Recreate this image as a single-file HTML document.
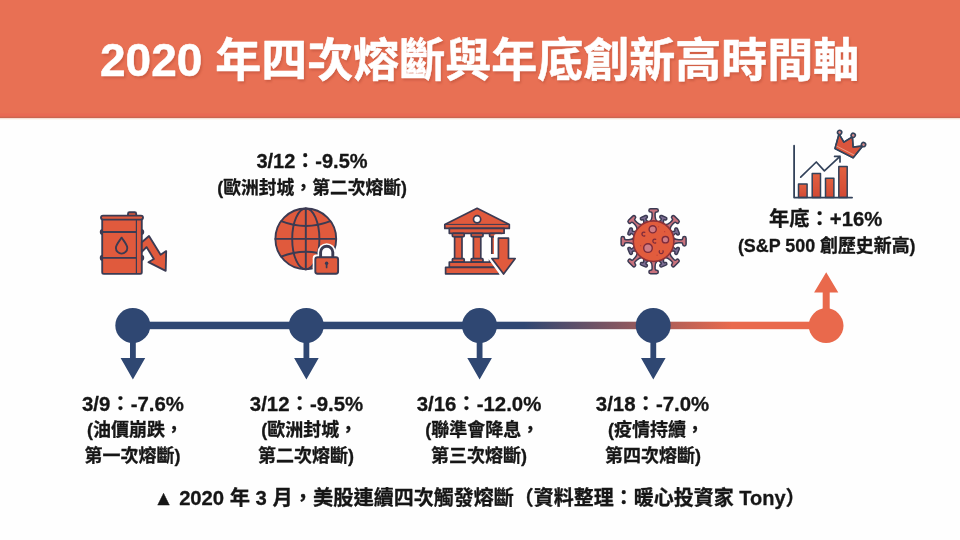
<!DOCTYPE html>
<html lang="zh-Hant">
<head>
<meta charset="utf-8">
<title>2020 年四次熔斷與年底創新高時間軸</title>
<style>
html,body{margin:0;padding:0;background:#fefefe;}
body{width:960px;height:540px;overflow:hidden;position:relative;font-family:"Liberation Sans","Noto Sans CJK TC",sans-serif;font-weight:bold;}
#art{position:absolute;left:0;top:0;width:960px;height:540px;display:block;}
#art text{font-family:"Liberation Sans","Noto Sans CJK TC",sans-serif;font-weight:bold;}
</style>
</head>
<body>
<svg id="art" width="960" height="540" viewBox="0 0 960 540">
<defs>
<linearGradient id="lineGrad" gradientUnits="userSpaceOnUse" x1="524" y1="0" x2="732" y2="0">
<stop offset="0" stop-color="#2f4772"/>
<stop offset="1" stop-color="#e9694c"/>
</linearGradient>
<linearGradient id="barGrad" x1="0" y1="0" x2="0" y2="1">
<stop offset="0" stop-color="#e2603f"/>
<stop offset="1" stop-color="#d24a35"/>
</linearGradient>
<filter id="soft" x="-5%" y="-5%" width="110%" height="110%"><feGaussianBlur stdDeviation="0.45"/></filter>
<filter id="tshadow" x="-2%" y="-10%" width="104%" height="130%"><feGaussianBlur stdDeviation="0.8"/></filter>
</defs>

<!-- background + banner -->
<rect x="0" y="0" width="960" height="540" fill="#fefefe"/>
<rect x="0" y="0" width="960" height="118" fill="#e87054"/>
<rect x="0" y="113.500" width="960" height="3" fill="#ea6752" opacity="0.7"/>
<rect x="0" y="116.700" width="960" height="1.700" fill="#c4634d" opacity="0.8"/>
<rect x="0" y="118.400" width="960" height="1.200" fill="#fbeee4" opacity="0.9"/>

<!-- timeline -->
<g id="timeline">
<rect x="132" y="321.7" width="695" height="7.5" fill="url(#lineGrad)"/>
<g fill="#2f4772">
<g id="node"><circle cx="132.8" cy="325.5" r="17.5"/><path d="M130 340h5.8v18h9.4l-12.3 21.4l-12.3-21.4h9.4z"/></g>
<use href="#node" x="173.5"/>
<use href="#node" x="346.7"/>
<use href="#node" x="520.4"/>
</g>
<g fill="#e9694c">
<circle cx="826.1" cy="325.7" r="17.4"/>
<path d="M822.7 312v-19.400h-8.600l12.100-20.400l12.100 20.400h-8.600v19.400z"/>
</g>
</g>

<!-- icons -->
<g id="icons" filter="url(#soft)">

<!-- oil barrel with falling arrow -->
<g id="ic-oil" stroke="#3b3a52" stroke-width="1.85" stroke-linejoin="round" stroke-linecap="round" fill="#e05a3c">
<rect x="128" y="212.2" width="8.2" height="4.5" rx="1.5"/>
<rect x="100.700" y="229.900" width="42.600" height="4.200" rx="2"/>
<rect x="100.700" y="255.700" width="42.600" height="4.200" rx="2"/>
<rect x="102.2" y="215.8" width="39.6" height="58" rx="1.6"/>
<rect x="101" y="215.6" width="42" height="4" rx="2"/>
<path d="M102.5 232h33.5M102.5 257.8h33.5" fill="none"/>
<path d="M136.4 219.5v54" fill="none" stroke-width="1.2"/>
<path d="M121.600 237.600c2.600 3.900 5.700 7.100 5.700 10.300a5.700 5.700 0 0 1-11.400 0c0-3.200 3.100-6.400 5.700-10.300z"/>
<path d="M141.8 242.2L149 236L160.600 254.800L166.200 251.100L165.700 270.800L148.400 262.200L153.900 259L146.500 247.100L141.8 251.900z"/>
</g>

<!-- globe with padlock -->
<g id="ic-globe" stroke="#3b3a52" stroke-width="1.9" stroke-linejoin="round" stroke-linecap="round" fill="#e05a3c">
<circle cx="305.8" cy="238.9" r="30.4"/>
<g fill="none">
<ellipse cx="305.8" cy="238.9" rx="13.6" ry="30.4"/>
<path d="M305.8 208.500v60.800M275.400 238.900h60.800"/>
<path d="M281.200 221.200q24.600 9.600 49.200 0M281.200 256.600q24.600-9.600 49.200 0"/>
</g>
<path d="M317.600 258v-5.700a9.100 9.100 0 0 1 18.200 0v5.700z" fill="#fefefe" stroke="none"/>
<rect x="312.700" y="254.600" width="28" height="21.800" rx="3.600" fill="#fefefe" stroke="none"/>
<path d="M320.600 257.500v-5.200a6.100 6.100 0 0 1 12.200 0v5.200" fill="none" stroke-width="2.900"/>
<rect x="315.300" y="257.200" width="22.800" height="16.600" rx="2.200"/>
<circle cx="326.600" cy="263.200" r="1.700" fill="#3b3a52" stroke="none"/>
<path d="M326.600 263.500v4" fill="none" stroke-width="1.700"/>
</g>

<!-- bank with down arrow -->
<g id="ic-bank" stroke="#3b3a52" stroke-width="1.7" stroke-linejoin="round" stroke-linecap="round" fill="#e05a3c">
<path d="M477.100 208.300L509.300 224.400v4h-64.500v-4z"/>
<path d="M445.500 224.400h63" fill="none" stroke-width="1"/>
<circle cx="477.100" cy="219.300" r="3.600" fill="#fefefe"/>
<rect x="449.300" y="228.400" width="54.800" height="4.900"/>
<g id="col">
<rect x="454.600" y="236.600" width="7.400" height="23"/>
<rect x="452.400" y="233.300" width="11.800" height="3.300" rx="0.800"/>
<rect x="452.400" y="258.600" width="11.800" height="3.600" rx="0.800"/>
</g>
<use href="#col" x="18.800"/>
<use href="#col" x="37.200"/>
<rect x="449.300" y="262.200" width="46" height="5.200"/>
<rect x="445.600" y="267.400" width="53.500" height="6.400"/>
<path d="M495.900 236.200h15.200v19.800h7.200l-14.700 20.600l-14.700-20.600h7z" fill="#fefefe" stroke="#fefefe" stroke-width="4"/>
<path d="M498.400 238.200h10.100v20.300h6.700l-11.600 15.600l-11.700-15.600h6.500z"/>
</g>

<!-- virus -->
<g id="ic-virus" transform="translate(653.6 241.2)" stroke="#3b3a52" stroke-width="1.5" stroke-linejoin="round" stroke-linecap="round">
<path id="spk" fill="#c9727d" d="M-3.6 -19.500C-2.300 -21 -1.500 -23 -1.500 -25L-1.500 -27.600C-1.500 -28.700 -2.200 -29.100 -3 -29.100A1.700 1.700 0 0 1 -3 -32.500L3 -32.500A1.700 1.700 0 0 1 3 -29.100C2.200 -29.100 1.500 -28.700 1.500 -27.600L1.500 -25C1.500 -23 2.300 -21 3.600 -19.500Z"/>
<use href="#spk" transform="rotate(45)"/>
<use href="#spk" transform="rotate(90)"/>
<use href="#spk" transform="rotate(135)"/>
<use href="#spk" transform="rotate(180)"/>
<use href="#spk" transform="rotate(225)"/>
<use href="#spk" transform="rotate(270)"/>
<use href="#spk" transform="rotate(315)"/>
<path id="nub" fill="#7b6c93" transform="rotate(22.5)" d="M-2.800 -19.500C-1.900 -21 -1.300 -22 -1.300 -23C-1.300 -23.800 -1.800 -24 -2.300 -24A1.400 1.400 0 0 1 -2.300 -26.800L2.300 -26.800A1.400 1.400 0 0 1 2.300 -24C1.800 -24 1.300 -23.800 1.300 -23C1.300 -22 1.900 -21 2.800 -19.500Z"/>
<use href="#nub" transform="rotate(45)"/>
<use href="#nub" transform="rotate(90)"/>
<use href="#nub" transform="rotate(135)"/>
<use href="#nub" transform="rotate(180)"/>
<use href="#nub" transform="rotate(225)"/>
<use href="#nub" transform="rotate(270)"/>
<use href="#nub" transform="rotate(315)"/>
<circle cx="0" cy="0" r="20.300" fill="#e15b3e" stroke="#8e3237" stroke-width="1.600"/>
<g fill="#cf7c86" stroke="#7d2c3a" stroke-width="1.400">
<circle cx="-0.900" cy="-11.900" r="3.600"/>
<circle cx="11.800" cy="-1.500" r="3.200"/>
<circle cx="-5.600" cy="6.900" r="4.300"/>
</g>
<g fill="none" stroke="#7d2c3a" stroke-width="1.300">
<path d="M-8.800 -8.900a2 2 0 1 0 0 3.600"/>
<path d="M2.100 -1.900a2 2 0 1 0 0 3.600"/>
<path d="M5.800 9.600a2 2 0 1 0 3.600 0"/>
</g>
<g fill="#c03f34" stroke="none">
<circle cx="11" cy="-9.500" r="0.600"/><circle cx="-13" cy="4.500" r="0.600"/><circle cx="3.500" cy="14" r="0.600"/><circle cx="5" cy="-14.500" r="0.500"/>
</g>
</g>

<!-- bar chart with crown -->
<g id="ic-chart" stroke="#33425a" stroke-width="1.500" stroke-linejoin="round" stroke-linecap="round">
<g fill="url(#barGrad)">
<rect x="798.500" y="184" width="8.600" height="13.400"/>
<rect x="812.200" y="173.600" width="8.300" height="23.800"/>
<rect x="825.500" y="178.300" width="8.400" height="19.100"/>
<rect x="838.800" y="166.500" width="8.400" height="30.900"/>
</g>
<path d="M794.100 145.700v51.900h58" fill="none" stroke-width="1.800"/>
<path d="M800.700 177.100L816.300 162L824.400 170.900L840 156.400M834.600 156.400h5.400v5.600" fill="none" stroke-width="1.700"/>
<g transform="translate(850 146) rotate(27) translate(-2 0)">
<path d="M-10.200 9.100L-13.300 -5.800L-5.200 -0.600L0 -9.200L5.200 -0.600L13.300 -5.800L10.200 9.100z" fill="#da543c"/>
<path d="M-10.800 6.200h21.600" fill="none" stroke="#ec9a84" stroke-width="0.900"/>
<path d="M-10.200 9.100L-13.300 -5.800L-5.200 -0.600L0 -9.200L5.200 -0.600L13.300 -5.800L10.200 9.100z" fill="none"/>
<circle cx="-13.400" cy="-7.400" r="2.100" fill="#d48a8a" stroke-width="1.600"/>
<circle cx="0" cy="-11" r="2.100" fill="#d48a8a" stroke-width="1.600"/>
<circle cx="13.400" cy="-7.400" r="2.100" fill="#d48a8a" stroke-width="1.600"/>
</g>
</g>

</g>

<!-- lettering (real text) -->
<g id="title-shadow" opacity="0.35" filter="url(#tshadow)"><text x="481" y="78" font-size="46" text-anchor="middle" fill="#9c3a26" stroke="#9c3a26" stroke-width="0.55">2020 年四次熔斷與年底創新高時間軸</text></g>
<text x="479.6" y="76.2" font-size="46" text-anchor="middle" fill="#ffffff" stroke="#ffffff" stroke-width="0.55" stroke-linejoin="round">2020 年四次熔斷與年底創新高時間軸</text>

<g fill="#161616" stroke="#161616" stroke-width="0.3" stroke-linejoin="round">
<text x="312" y="168" font-size="20" text-anchor="middle">3/12：-9.5%</text>
<text x="312.2" y="194" font-size="17.8" text-anchor="middle">(歐洲封城，第二次熔斷)</text>

<text x="825.6" y="226.4" font-size="20.3" text-anchor="middle">年底：+16%</text>
<text x="826.7" y="252" font-size="17.9" text-anchor="middle">(S&amp;P 500 創歷史新高)</text>

<text x="133" y="411" font-size="20.4" text-anchor="middle">3/9：-7.6%</text>
<text x="87.1" y="435.8" font-size="18">(油價崩跌，</text>
<text x="84.6" y="461.5" font-size="18">第一次熔斷)</text>

<text x="306.5" y="411" font-size="20.4" text-anchor="middle">3/12：-9.5%</text>
<text x="261.2" y="435.8" font-size="18">(歐洲封城，</text>
<text x="258.1" y="461.5" font-size="18">第二次熔斷)</text>

<text x="479" y="411" font-size="20.4" text-anchor="middle">3/16：-12.0%</text>
<text x="425.3" y="435.8" font-size="18">(聯準會降息，</text>
<text x="431.1" y="461.5" font-size="18">第三次熔斷)</text>

<text x="652.5" y="411" font-size="20.4" text-anchor="middle">3/18：-7.0%</text>
<text x="607.9" y="435.8" font-size="18">(疫情持續，</text>
<text x="605.1" y="461.5" font-size="18">第四次熔斷)</text>

<text x="153.5" y="505" font-size="20.3" textLength="220.2" lengthAdjust="spacing">▲ 2020 年 3 月，美股連</text>
<text x="373.7" y="505" font-size="20">續四次觸發熔斷（資料整理：暖心投資家 Tony）</text>
</g>
</svg>
</body>
</html>
